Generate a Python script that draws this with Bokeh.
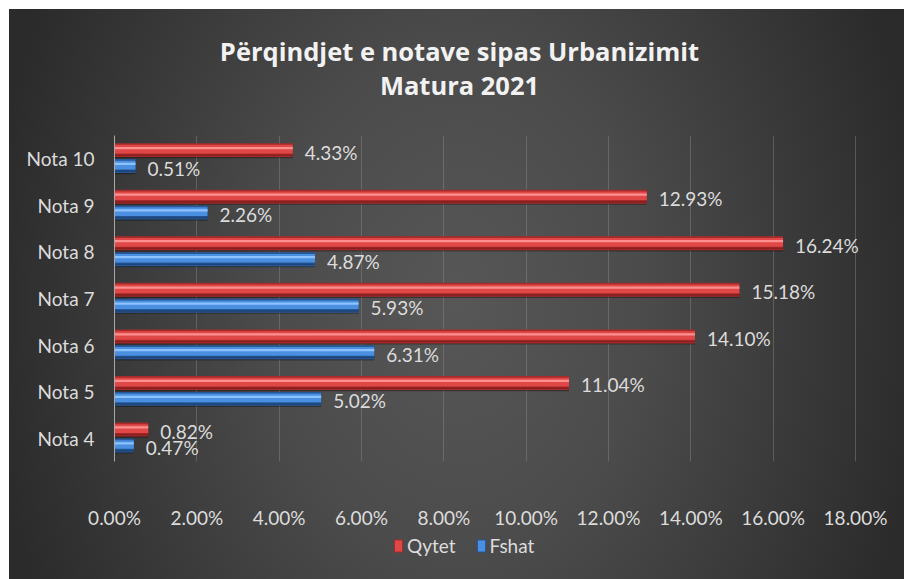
from bokeh.plotting import figure
from bokeh.models import (ColumnDataSource, FactorRange, FixedTicker, PrintfTickFormatter,
                          LabelSet, Label, Legend, LegendItem, Range1d)
from bokeh.layouts import column
from bokeh.transform import dodge
from bokeh.core.properties import value
from bokeh.embed import file_html
from bokeh.resources import INLINE

categories = ["Nota 4", "Nota 5", "Nota 6", "Nota 7", "Nota 8", "Nota 9", "Nota 10"]
qytet = [0.82, 11.04, 14.10, 15.18, 16.24, 12.93, 4.33]
fshat = [0.47, 5.02, 6.31, 5.93, 4.87, 2.26, 0.51]
x_ticks = [0, 2, 4, 6, 8, 10, 12, 14, 16, 18]
series_names = ["Qytet", "Fshat"]
title_line1 = "Përqindjet e notave sipas Urbanizimit"
title_line2 = "Matura 2021"

src = ColumnDataSource(dict(
    cat=categories,
    qytet=qytet,
    fshat=fshat,
    qlab=[f"{v:.2f}%" for v in qytet],
    flab=[f"{v:.2f}%" for v in fshat],
))

FONT = "Lato"
TXT = "#dcdcdc"
W = 895
BL, BR = 105, 24            # frame borders shared by all three stacked figures
FW = W - BL - BR            # frame width (766 px)
X_END = 18 * FW / 741.0     # 18% gridline sits 741 px right of the axis
RED = ("#a82b2b", "#e04848", "#ff9090", "#8a1f1f")
BLUE = ("#27589a", "#4a8fe0", "#8cc2ff", "#1d4579")


def strip(h):
    f = figure(width=W, height=h, x_range=Range1d(0, FW), y_range=Range1d(0, h),
               x_axis_type=None, y_axis_type=None, output_backend="svg",
               toolbar_location=None, title=None,
               min_border_left=BL, min_border_right=BR, min_border_top=0, min_border_bottom=0)
    f.background_fill_alpha = 0
    f.border_fill_alpha = 0
    f.outline_line_color = None
    return f

# ---- title strip ----
top = strip(120)
for txt, yy in ((title_line1, 79), (title_line2, 45)):
    top.add_layout(Label(x=345, y=yy, text=txt, text_align="center", text_baseline="alphabetic",
                         text_font="Open Sans", text_font_style="bold",
                         text_font_size="25.5px", text_color="#f2f2f2"))

# ---- main chart ----
p = figure(width=W, height=402, y_range=FactorRange(factors=categories),
           x_range=Range1d(0, X_END), output_backend="svg", toolbar_location=None, title=None,
           min_border_left=BL, min_border_right=BR, min_border_top=6, min_border_bottom=69)
p.background_fill_alpha = 0
p.border_fill_alpha = 0
p.outline_line_color = None

H = 0.30
OFF_R = 0.186
OFF_B = -0.155


def layered(field, off, cols):
    base, main, hi, shade = cols
    p.hbar(y=dodge("cat", off - 0.025, range=p.y_range), right=field, left=0, height=H,
           source=src, fill_color="black", fill_alpha=0.35, line_color=None)
    p.hbar(y=dodge("cat", off, range=p.y_range), right=field, left=0, height=H,
           source=src, fill_color=base, line_color=None)
    p.hbar(y=dodge("cat", off + 0.02, range=p.y_range), right=field, left=0, height=H * 0.62,
           source=src, fill_color=main, line_color=None)
    p.hbar(y=dodge("cat", off + 0.045, range=p.y_range), right=field, left=0, height=H * 0.16,
           source=src, fill_color=hi, line_color=None)
    p.hbar(y=dodge("cat", off - 0.11, range=p.y_range), right=field, left=0, height=H * 0.12,
           source=src, fill_color=shade, line_color=None)


layered("qytet", OFF_R, RED)
layered("fshat", OFF_B, BLUE)

for field, lab, off in (("qytet", "qlab", OFF_R), ("fshat", "flab", OFF_B)):
    p.add_layout(LabelSet(x=field, y=dodge("cat", off, range=p.y_range), text=lab, source=src,
                          x_offset=12, y_offset=-2, text_font=value(FONT), text_font_size="19px",
                          text_color=TXT, text_baseline="middle", text_align="left"))

p.xaxis.ticker = FixedTicker(ticks=x_ticks)
p.xaxis.formatter = PrintfTickFormatter(format="%.2f%%")
p.xaxis.axis_line_color = None
p.xaxis.major_tick_line_color = None
p.xaxis.minor_tick_line_color = None
p.xaxis.major_tick_out = 0
p.xaxis.major_label_standoff = 44
p.xaxis.major_label_text_font = FONT
p.xaxis.major_label_text_font_size = "19px"
p.xaxis.major_label_text_color = TXT

p.yaxis.axis_line_color = "#a8a8a8"
p.yaxis.major_tick_line_color = None
p.yaxis.minor_tick_line_color = None
p.yaxis.major_tick_out = 0
p.yaxis.major_label_standoff = 20
p.yaxis.major_label_text_font = FONT
p.yaxis.major_label_text_font_size = "19px"
p.yaxis.major_label_text_color = TXT

p.xgrid.ticker = FixedTicker(ticks=x_ticks)
p.xgrid.grid_line_color = "#8a8a8a"
p.xgrid.grid_line_alpha = 0.45
p.ygrid.grid_line_color = None

# ---- legend strip ----
bot = strip(48)
# one off-screen point each, so the legend has a glyph to draw
lr = bot.hbar(y=[-500], left=[-600], right=[-590], height=1, fill_color=RED[1], line_color=RED[0])
lb = bot.hbar(y=[-500], left=[-600], right=[-590], height=1, fill_color=BLUE[1], line_color=BLUE[0])
legend = Legend(items=[LegendItem(label=series_names[0], renderers=[lr]),
                       LegendItem(label=series_names[1], renderers=[lb])],
                location=(279, 22), orientation="horizontal",
                glyph_width=10, glyph_height=15, label_height=15, label_standoff=4,
                spacing=20, padding=0, margin=0,
                background_fill_alpha=0, border_line_color=None,
                label_text_font=FONT, label_text_font_size="19px", label_text_color=TXT)
bot.add_layout(legend)

layout = column(top, p, bot, spacing=0, width=W, height=570,
                styles={"margin": "9px 0 0 9px",
                        "background": "radial-gradient(ellipse 470px 640px at 50% 52%, #575757 0%, #4b4b4b 40%, #2b2b2b 100%)"})

open("out.html", "w").write(file_html(layout, INLINE))
